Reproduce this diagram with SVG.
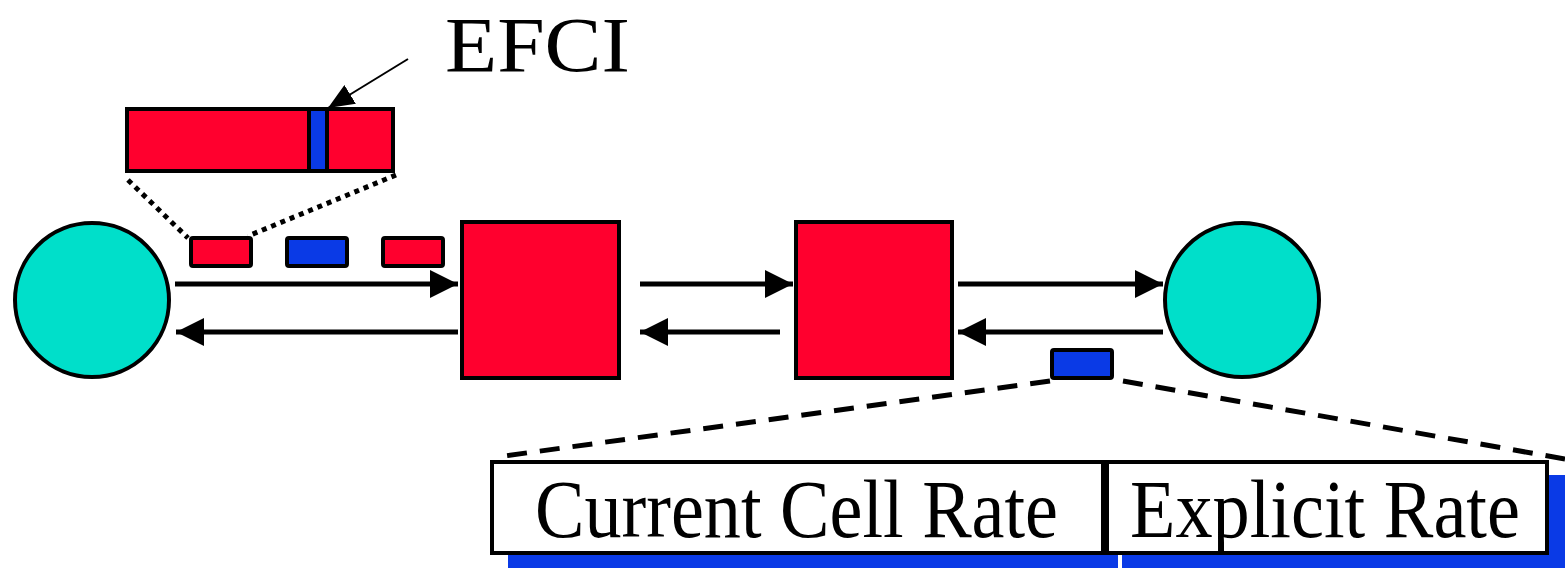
<svg xmlns="http://www.w3.org/2000/svg" width="1565" height="568" viewBox="0 0 1565 568">
<style>
.red{fill:#FF002E;stroke:#000;stroke-width:4}
.blue{fill:#0A3AE6;stroke:#000;stroke-width:4}
.host{fill:#00DFCA;stroke:#000;stroke-width:4}
.arr{stroke:#000;stroke-width:5;fill:none}
.big{font-family:"Liberation Serif",serif;fill:#000}
</style>
<defs>
<marker id="ah" viewBox="0 0 28 28" refX="28" refY="14" markerWidth="28" markerHeight="28" markerUnits="userSpaceOnUse" orient="auto">
<path d="M0,0 L28,14 L0,28 Z" fill="#000"/>
</marker>
<marker id="ah2" viewBox="0 0 26 22" refX="26" refY="11" markerWidth="26" markerHeight="22" markerUnits="userSpaceOnUse" orient="auto">
<path d="M0,0 L26,11 L0,22 Z" fill="#000"/>
</marker>
</defs>
<g id="host-left"><circle class="host" cx="92" cy="300" r="77"/></g>
<g id="host-right"><circle class="host" cx="1242" cy="300" r="77"/></g>
<g id="switch-1"><rect class="red" x="462" y="222" width="157" height="156"/></g>
<g id="switch-2"><rect class="red" x="796" y="222" width="156" height="156"/></g>
<g id="cells">
<rect class="red" x="191" y="238" width="60" height="28" rx="2"/>
<rect class="blue" x="287" y="238" width="60" height="28" rx="2"/>
<rect class="red" x="383" y="238" width="60" height="28" rx="2"/>
<rect class="blue" x="1052" y="350" width="60" height="28" rx="2"/>
</g>
<g id="cell-detail">
<rect class="red" x="127" y="109" width="266" height="62"/>
<rect class="blue" x="309" y="109" width="18" height="62"/>
</g>
<g id="efci-label">
<text class="big" x="445" y="71" font-size="79" textLength="185" lengthAdjust="spacingAndGlyphs">EFCI</text>
</g>
<g id="rm-detail">
<rect x="508" y="475" width="610" height="93" fill="#0A3AE6"/>
<rect x="1122" y="475" width="443" height="93" fill="#0A3AE6"/>
<rect x="492" y="462" width="611" height="91" fill="#fff" stroke="#000" stroke-width="4"/>
<rect x="1107" y="462" width="440" height="91" fill="#fff" stroke="#000" stroke-width="4"/>
<text class="big" x="535" y="537" font-size="82" textLength="523" lengthAdjust="spacingAndGlyphs">Current Cell Rate</text>
<text class="big" x="1130" y="537" font-size="82" textLength="390" lengthAdjust="spacingAndGlyphs">Explicit Rate</text>
</g>
<g id="connectors">
<line class="arr" x1="175" y1="284" x2="458" y2="284" marker-end="url(#ah)"/>
<line class="arr" x1="458" y1="332" x2="176" y2="332" marker-end="url(#ah)"/>
<line class="arr" x1="640" y1="284" x2="793" y2="284" marker-end="url(#ah)"/>
<line class="arr" x1="780" y1="332" x2="640" y2="332" marker-end="url(#ah)"/>
<line class="arr" x1="958" y1="284" x2="1163" y2="284" marker-end="url(#ah)"/>
<line class="arr" x1="1163" y1="332" x2="958" y2="332" marker-end="url(#ah)"/>
<line x1="408" y1="59" x2="328" y2="108" stroke="#000" stroke-width="2" marker-end="url(#ah2)"/>
<line x1="128" y1="180" x2="188" y2="238" stroke="#000" stroke-width="5" stroke-dasharray="5 5"/>
<line x1="396" y1="175" x2="248" y2="236" stroke="#000" stroke-width="5" stroke-dasharray="5 5"/>
<line x1="1050" y1="381" x2="497" y2="457" stroke="#000" stroke-width="5" stroke-dasharray="20 13"/>
<line x1="1123" y1="381" x2="1565" y2="459" stroke="#000" stroke-width="5" stroke-dasharray="20 13"/>
</g>
</svg>
